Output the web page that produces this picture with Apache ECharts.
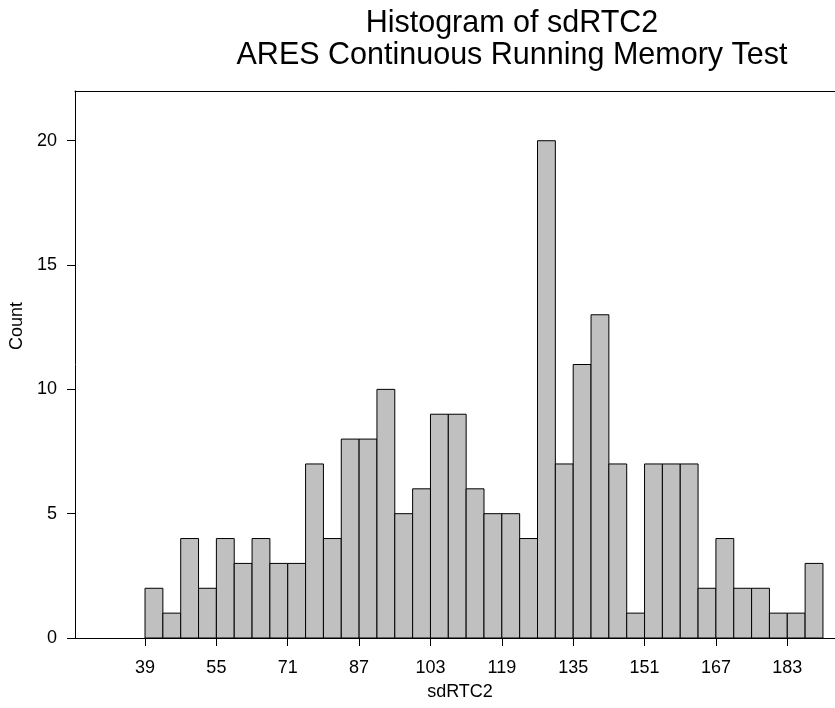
<!DOCTYPE html>
<html>
<head>
<meta charset="utf-8">
<script src="https://cdn.jsdelivr.net/npm/echarts@6/dist/echarts.min.js"></script>
<style>
  html, body { margin: 0; padding: 0; background: #fff; }
  #chart { width: 835px; height: 708px; }
</style>
</head>
<body>
<div id="chart"></div>
<script>
// Histogram bins (left edges, width 4) and counts
const binStarts = [39, 43, 47, 51, 55, 59, 63, 67, 71, 75, 79, 83, 87, 91, 95, 99, 103, 107, 111, 115, 119, 123, 127, 131, 135, 139, 143, 147, 151, 155, 159, 163, 167, 171, 175, 179, 183, 187];
const binWidth = 4;
const counts = [2, 1, 4, 2, 4, 3, 4, 3, 3, 7, 4, 8, 8, 10, 5, 6, 9, 9, 6, 5, 5, 4, 20, 7, 11, 13, 7, 1, 7, 7, 7, 2, 4, 2, 2, 1, 1, 3];
const xTicks = [39, 55, 71, 87, 103, 119, 135, 151, 167, 183];
const yTicks = [0, 5, 10, 15, 20];

const titleText = 'Histogram of sdRTC2\nARES Continuous Running Memory Test';
const xName = 'sdRTC2';
const yName = 'Count';

const FONT = '"Liberation Sans", Arial, sans-serif';

const data = binStarts.map((s, i) => [s, s + binWidth, counts[i]]);

const chart = echarts.init(document.getElementById('chart'), null, { renderer: 'canvas' });
chart.setOption({
  animation: false,
  backgroundColor: '#ffffff',
  title: {
    text: titleText,
    left: 507,
    top: 3,
    textAlign: 'center',
    textStyle: { fontFamily: FONT, fontSize: 30.5, fontWeight: 'normal', color: '#000', lineHeight: 32 }
  },
  grid: {
    show: false,
    left: 75,
    top: 91,
    right: 0,
    height: 547,
    containLabel: false
  },
  xAxis: [{
    type: 'value',
    min: 23.3,
    max: 193.7,
    position: 'bottom',
    axisLine: { show: true, onZero: false, lineStyle: { color: '#000', width: 1 } },
    splitLine: { show: false },
    axisTick: { show: true, length: 8, customValues: xTicks, lineStyle: { color: '#000', width: 1 } },
    axisLabel: { customValues: xTicks, margin: 21, fontFamily: FONT, fontSize: 18, color: '#000' }
  }, {
    type: 'value',
    min: 23.3,
    max: 193.7,
    position: 'top',
    axisLine: { show: true, onZero: false, lineStyle: { color: '#000', width: 1 } },
    splitLine: { show: false },
    axisTick: { show: false },
    axisLabel: { show: false }
  }],
  yAxis: {
    type: 'value',
    min: 0,
    max: 22,
    axisLine: { show: true, onZero: false, lineStyle: { color: '#000', width: 1 } },
    splitLine: { show: false },
    axisTick: { show: true, length: 8, customValues: yTicks, lineStyle: { color: '#000', width: 1 } },
    axisLabel: { customValues: yTicks, margin: 18, fontFamily: FONT, fontSize: 18, color: '#000' }
  },
  graphic: [
    {
      type: 'text', x: 17.5, y: 326, rotation: Math.PI / 2,
      style: { text: yName, fontFamily: FONT, fontSize: 18, fill: '#000', align: 'center', verticalAlign: 'middle' }
    },
    {
      type: 'text', x: 460, y: 692,
      style: { text: xName, fontFamily: FONT, fontSize: 18, fill: '#000', align: 'center', verticalAlign: 'middle' }
    }
  ],
  series: [{
    type: 'custom',
    xAxisIndex: 0,
    data: data,
    encode: { x: [0, 1], y: 2 },
    renderItem: function (params, api) {
      const p0 = api.coord([api.value(0), 0]);
      const p1 = api.coord([api.value(1), api.value(2)]);
      return {
        type: 'rect',
        shape: { x: p0[0], y: p1[1], width: p1[0] - p0[0], height: p0[1] - p1[1] },
        style: { fill: '#c0c0c0', stroke: '#000', lineWidth: 1 }
      };
    }
  }]
});
</script>
</body>
</html>
